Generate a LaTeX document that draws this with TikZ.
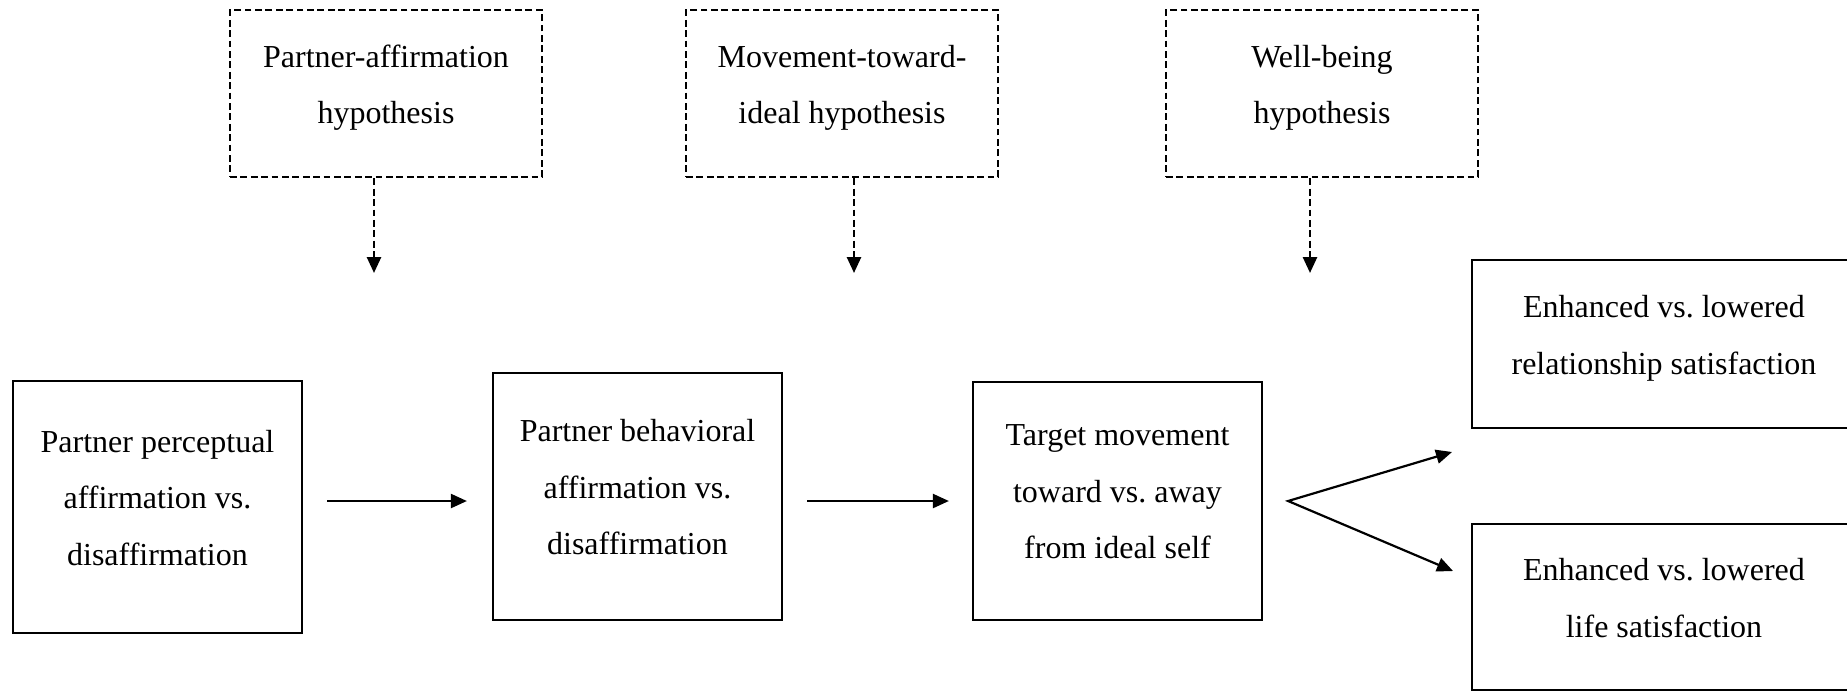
\documentclass[tikz,border=0pt]{standalone}
\usepackage{fontspec}
\setmainfont{Liberation Serif}
\usetikzlibrary{arrows.meta}
\newcommand{\lastdp}{\rule[-9.3pt]{0pt}{9.3pt}}

\begin{document}
\begin{tikzpicture}[x=0.5pt, y=-0.5pt,
    font=\fontsize{16}{28.3}\selectfont\frenchspacing,
    >={Triangle[length=8pt,width=7pt]},
    hypbox/.style={draw, line width=1.3pt, dash pattern=on 3.4pt off 1.8pt, minimum width=156pt, minimum height=83.5pt, align=center, inner sep=0pt},
    mainbox/.style={draw, line width=1.1pt, minimum width=144.5pt, align=center, inner sep=0pt},
    outbox/.style={mainbox, minimum width=192pt},
    arr/.style={line width=1.1pt, ->},
    dasharr/.style={line width=1.3pt, dash pattern=on 3.4pt off 1.8pt, ->}]

    \clip (0,0) rectangle (1847,693);

    % hypotheses
    \node[hypbox] (affhyp) at (386,93.5) {Partner-affirmation\\hypothesis\lastdp};
    \node[hypbox] (movhyp) at (842,93.5) {Movement-toward-\\ideal hypothesis\lastdp};
    \node[hypbox] (wellhyp) at (1322,93.5) {Well-being\\hypothesis\lastdp};

    \coordinate (t1) at (374,273);
    \coordinate (t2) at (854,273);
    \coordinate (t3) at (1310,273);
    \draw[dasharr] (affhyp.south -| t1) -- (t1);
    \draw[dasharr] (movhyp.south -| t2) -- (t2);
    \draw[dasharr] (wellhyp.south -| t3) -- (t3);

    % model
    \node[mainbox, minimum height=126pt] (perc) at (157.5,507) {Partner perceptual\\affirmation vs.\\disaffirmation\lastdp};
    \node[mainbox, minimum height=123.5pt] (behav) at (637.5,496.5) {Partner behavioral\\affirmation vs.\\disaffirmation\lastdp};
    \node[mainbox, minimum height=119pt] (target) at (1117.5,501) {Target movement\\toward vs. away\\from ideal self\lastdp};
    \node[outbox, minimum height=84pt] (relsat) at (1664,344) {Enhanced vs. lowered\\relationship satisfaction\lastdp};
    \node[outbox, minimum height=83pt] (lifesat) at (1664,607) {Enhanced vs. lowered\\life satisfaction\lastdp};

    \coordinate (row) at (0,501);
    \draw[arr, shorten <=12pt, shorten >=12.5pt] (perc.east |- row) -- (behav.west |- row);
    \draw[arr, shorten <=12pt, shorten >=11.5pt] (behav.east |- row) -- (target.west |- row);

    \coordinate (fork) at ([xshift=12.5pt]target.east);
    \coordinate (up) at (1452,452);
    \coordinate (down) at (1453,571);
    \draw[arr, <->] (up) -- (fork) -- (down);
    %
\end{tikzpicture}
\end{document}
